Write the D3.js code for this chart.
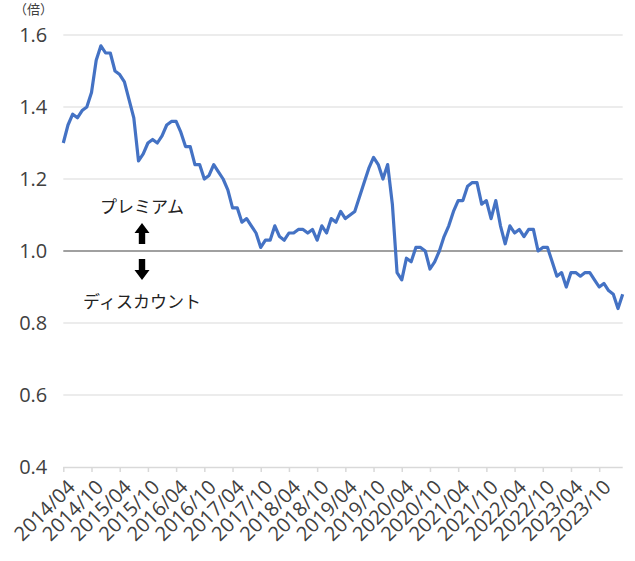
<!DOCTYPE html>
<html>
<head>
<meta charset="utf-8">
<script src="https://cdn.jsdelivr.net/npm/d3@7"></script>
<style>
  html, body { margin: 0; padding: 0; background: #fff; }
  svg { display: block; }
</style>
</head>
<body>
<svg id="chart" width="635" height="561"></svg>
<script>
// ---- data ----
const startYear = 2014, startMonth = 4, monthCount = 120; // 2014/04 .. 2024/03
const values = [
  1.30, 1.35, 1.38, 1.37, 1.39, 1.40, 1.44, 1.53, 1.57, 1.55,
  1.55, 1.50, 1.49, 1.47, 1.42, 1.37, 1.25, 1.27, 1.30, 1.31,
  1.30, 1.32, 1.35, 1.36, 1.36, 1.33, 1.29, 1.29, 1.24, 1.24,
  1.20, 1.21, 1.24, 1.22, 1.20, 1.17, 1.12, 1.12, 1.08, 1.09,
  1.07, 1.05, 1.01, 1.03, 1.03, 1.07, 1.04, 1.03, 1.05, 1.05,
  1.06, 1.06, 1.05, 1.06, 1.03, 1.07, 1.05, 1.09, 1.08, 1.11,
  1.09, 1.10, 1.11, 1.15, 1.19, 1.23, 1.26, 1.24, 1.20, 1.24,
  1.13, 0.94, 0.92, 0.98, 0.97, 1.01, 1.01, 1.00, 0.95, 0.97,
  1.00, 1.04, 1.07, 1.11, 1.14, 1.14, 1.18, 1.19, 1.19, 1.13,
  1.14, 1.09, 1.14, 1.07, 1.02, 1.07, 1.05, 1.06, 1.04, 1.06,
  1.06, 1.00, 1.01, 1.01, 0.97, 0.93, 0.94, 0.90, 0.94, 0.94,
  0.93, 0.94, 0.94, 0.92, 0.90, 0.91, 0.89, 0.88, 0.84, 0.88
];
const yTicks = [0.4, 0.6, 0.8, 1.0, 1.2, 1.4, 1.6];
const xTickLabels = [
  "2014/04","2014/10","2015/04","2015/10","2016/04","2016/10","2017/04","2017/10",
  "2018/04","2018/10","2019/04","2019/10","2020/04","2020/10","2021/04","2021/10",
  "2022/04","2022/10","2023/04","2023/10"
];
const unitLabel = "（倍）";
const premiumLabel = "プレミアム";
const discountLabel = "ディスカウント";
const baseline = 1.0;

const categories = d3.range(monthCount).map(i => {
  const m = startMonth - 1 + i;
  const yr = startYear + Math.floor(m / 12);
  const mm = (m % 12) + 1;
  return yr + "/" + String(mm).padStart(2, "0");
});
const data = categories.map((c, i) => ({ c, v: values[i] }));

// ---- layout ----
const svg = d3.select("#chart");
const plotLeft = 63.3, plotRight = 622.7, plotTop = 35, plotBottom = 467;
const font = "'Noto Sans CJK JP', 'Noto Sans', sans-serif";
const numFont = "'Open Sans', 'Noto Sans', sans-serif";
const textColor = "#404040";

const x = d3.scalePoint().domain(categories).range([plotLeft, plotRight]);
const y = d3.scaleLinear().domain([0.4, 1.6]).range([plotBottom, plotTop]);

// gridlines
svg.append("g").selectAll("line")
  .data(yTicks.filter(t => t !== baseline && t !== 0.4))
  .join("line")
  .attr("x1", plotLeft).attr("x2", plotRight)
  .attr("y1", d => y(d)).attr("y2", d => y(d))
  .attr("stroke", "#d9d9d9").attr("stroke-width", 1.2);

// baseline 1.0
svg.append("line")
  .attr("x1", plotLeft).attr("x2", plotRight)
  .attr("y1", y(baseline)).attr("y2", y(baseline))
  .attr("stroke", "#a0a0a0").attr("stroke-width", 2);

// y axis labels
const yAxis = d3.axisLeft(y).tickValues(yTicks).tickFormat(d3.format(".1f")).tickSize(0).tickPadding(16);
const gy = svg.append("g").attr("transform", `translate(${plotLeft},0)`).call(yAxis);
gy.select(".domain").remove();
gy.selectAll("text").attr("font-family", numFont).attr("font-size", 20).attr("fill", textColor);

// x axis
const xAxis = d3.axisBottom(x).tickValues(xTickLabels).tickSize(5).tickPadding(0);
const gx = svg.append("g").attr("transform", `translate(0,${plotBottom})`).call(xAxis);
gx.select(".domain").attr("d", `M${plotLeft},0.5H${plotRight}`).attr("stroke", "#d9d9d9").attr("stroke-width", 1.5);
gx.selectAll(".tick line").attr("stroke", "#d9d9d9").attr("stroke-width", 1.5);
gx.selectAll(".tick text")
  .attr("font-family", numFont).attr("font-size", 20).attr("fill", textColor)
  .attr("text-anchor", "end")
  .attr("dy", "0.35em")
  .attr("transform", "translate(4,13) rotate(-45)");

// line
const line = d3.line().x(d => x(d.c)).y(d => y(d.v));
svg.append("path").datum(data)
  .attr("d", line)
  .attr("fill", "none")
  .attr("stroke", "#4472c4")
  .attr("stroke-width", 3.2)
  .attr("stroke-linejoin", "round");

// unit label
svg.append("text").text(unitLabel)
  .attr("x", 14).attr("y", 14)
  .attr("font-family", font).attr("font-size", 13).attr("fill", textColor);

// annotations
const ax = 142;
svg.append("text").text(premiumLabel)
  .attr("x", ax).attr("y", y(baseline) - 46)
  .attr("text-anchor", "middle").attr("dominant-baseline", "central")
  .attr("font-family", font).attr("font-size", 17).attr("fill", "#222");
svg.append("text").text(discountLabel)
  .attr("x", ax).attr("y", y(baseline) + 49)
  .attr("text-anchor", "middle").attr("dominant-baseline", "central")
  .attr("font-family", font).attr("font-size", 17).attr("fill", "#222");

function arrow(yTip, dir) {
  const len = 21, head = 10, hw = 7.5, sw = 3.2;
  const yBase = yTip - dir * len;
  const yNeck = yTip - dir * head;
  const p = [
    [ax - sw, yBase], [ax + sw, yBase], [ax + sw, yNeck], [ax + hw, yNeck],
    [ax, yTip], [ax - hw, yNeck], [ax - sw, yNeck]
  ];
  svg.append("path").attr("d", "M" + p.join("L") + "Z").attr("fill", "#000");
}
arrow(y(baseline) - 28, -1);
arrow(y(baseline) + 29, 1);
</script>
</body>
</html>
